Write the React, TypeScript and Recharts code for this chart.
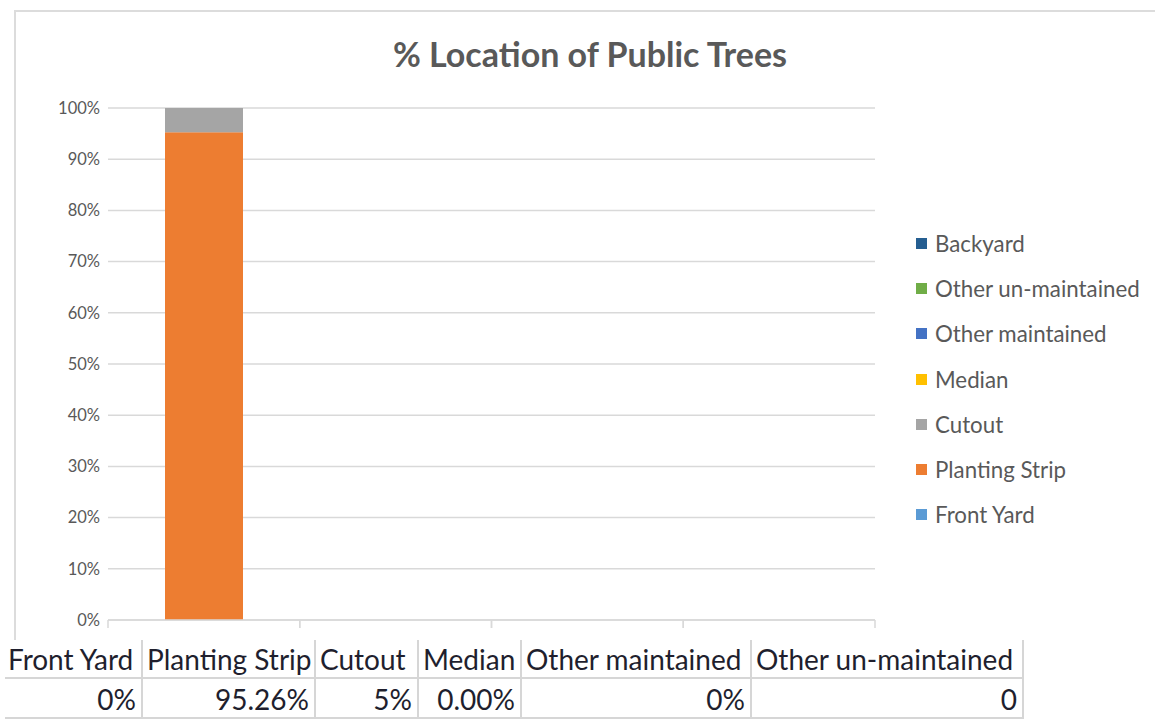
import React from "react";
import { BarChart, Bar, XAxis, YAxis, CartesianGrid } from "recharts";

const categories = ["1", "2", "3", "4"];
const seriesNames = [
  "Front Yard",
  "Planting Strip",
  "Cutout",
  "Median",
  "Other maintained",
  "Other un-maintained",
  "Backyard",
];
const seriesColors = ["#5B9BD5", "#ED7D31", "#A5A5A5", "#FFC000", "#4472C4", "#70AD47", "#255E91"];
const frontYard = [0, 0, 0, 0];
const plantingStrip = [0.9526, 0, 0, 0];
const cutout = [0.0474, 0, 0, 0];
const median = [0, 0, 0, 0];
const otherMaintained = [0, 0, 0, 0];
const otherUnMaintained = [0, 0, 0, 0];
const backyard = [0, 0, 0, 0];
const seriesValues = [frontYard, plantingStrip, cutout, median, otherMaintained, otherUnMaintained, backyard];
const yTicks = [0, 0.1, 0.2, 0.3, 0.4, 0.5, 0.6, 0.7, 0.8, 0.9, 1];

const tableHeaders = ["Front Yard", "Planting Strip", "Cutout", "Median", "Other maintained", "Other un-maintained"];
const tableValues = ["0%", "95.26%", "5%", "0.00%", "0%", "0"];
const colEdges = [5, 143, 316, 419, 522, 752, 1024];

const data = categories.map((c, i) => {
  const row: Record<string, any> = { cat: c };
  seriesNames.forEach((n, k) => (row[n] = seriesValues[k][i]));
  return row;
});

const axisFont = "Lato, 'Open Sans', sans-serif";

function BoundaryTick(props: any) {
  const { x, y, payload } = props;
  const half = payload && payload.offset ? payload.offset : 95.875;
  return (
    <g>
      <line x1={x - half} x2={x - half} y1={y} y2={y + 8} stroke="#d9d9d9" strokeWidth={1.5} />
      <line x1={x + half} x2={x + half} y1={y} y2={y + 8} stroke="#d9d9d9" strokeWidth={1.5} />
    </g>
  );
}

function LegendBox() {
  const items = seriesNames.map((n, i) => ({ n, c: seriesColors[i] })).reverse();
  return (
    <div style={{ position: "absolute", left: 916, top: 221 }}>
      {items.map((it) => (
        <div key={it.n} style={{ display: "flex", alignItems: "center", height: 45.2 }}>
          <span style={{ width: 11, height: 11, background: it.c, display: "inline-block", marginRight: 8 }} />
          <span style={{ fontFamily: axisFont, fontSize: 22.3, color: "#595959", whiteSpace: "nowrap" }}>{it.n}</span>
        </div>
      ))}
    </div>
  );
}

export default function App() {
  return (
    <div style={{ position: "absolute", left: 0, top: 0, width: 1155, height: 719, background: "#fff", overflow: "hidden" }}>
      <div
        style={{
          position: "absolute",
          left: 14,
          top: 10,
          width: 1200,
          height: 630,
          borderTop: "2px solid #dcdcdc",
          borderLeft: "2px solid #dcdcdc",
          boxSizing: "border-box",
        }}
      />
      <div
        style={{
          position: "absolute",
          left: 0,
          width: 1180,
          top: 32,
          textAlign: "center",
          fontFamily: axisFont,
          fontWeight: 700,
          fontSize: 34,
          lineHeight: "44px",
          color: "#595959",
        }}
      >
        % Location of Public Trees
      </div>
      <div style={{ position: "absolute", left: 0, top: 0 }}>
        <BarChart width={1155} height={640} data={data} margin={{ top: 108, right: 280, bottom: 0, left: 0 }}>
          <CartesianGrid vertical={false} stroke="#d9d9d9" strokeWidth={1.5} />
          <XAxis
            dataKey="cat"
            height={20}
            axisLine={{ stroke: "#d9d9d9", strokeWidth: 1.5 }}
            tickLine={false}
            tickSize={0}
            tickMargin={0}
            interval={0}
            tick={<BoundaryTick />}
          />
          <YAxis
            width={108}
            domain={[0, 1]}
            ticks={yTicks}
            interval={0}
            axisLine={false}
            tickLine={false}
            tickFormatter={(v: number) => `${Math.round(v * 100)}%`}
            tick={{ fill: "#595959", fontSize: 16.5, fontFamily: axisFont }}
          />
          {seriesNames.map((n, i) => (
            <Bar key={n} dataKey={n} stackId="a" fill={seriesColors[i]} barSize={78} isAnimationActive={false} />
          ))}
        </BarChart>
      </div>
      <LegendBox />
      <div style={{ position: "absolute", left: 0, top: 640 }}>
        {tableHeaders.map((h, i) => (
          <div
            key={h}
            style={{
              position: "absolute",
              left: colEdges[i],
              top: 0,
              width: colEdges[i + 1] - colEdges[i],
              height: 39,
              borderRight: "2px solid #d6d6d6",
              borderBottom: "2px solid #d6d6d6",
              boxSizing: "border-box",
              fontFamily: axisFont,
              fontSize: 28,
              color: "#1f1f2e",
              lineHeight: "39px",
              paddingLeft: i === 0 ? 3 : 4,
              whiteSpace: "nowrap",
              overflow: "visible",
            }}
          >
            {h}
          </div>
        ))}
        {tableValues.map((v, i) => (
          <div
            key={i}
            style={{
              position: "absolute",
              left: colEdges[i],
              top: 39,
              width: colEdges[i + 1] - colEdges[i],
              height: 40,
              borderRight: "2px solid #d6d6d6",
              borderBottom: "2px solid #d6d6d6",
              boxSizing: "border-box",
              fontFamily: axisFont,
              fontSize: 28,
              color: "#1f1f2e",
              lineHeight: "40px",
              textAlign: "right",
              paddingRight: 5,
              whiteSpace: "nowrap",
            }}
          >
            {v}
          </div>
        ))}
      </div>
    </div>
  );
}
